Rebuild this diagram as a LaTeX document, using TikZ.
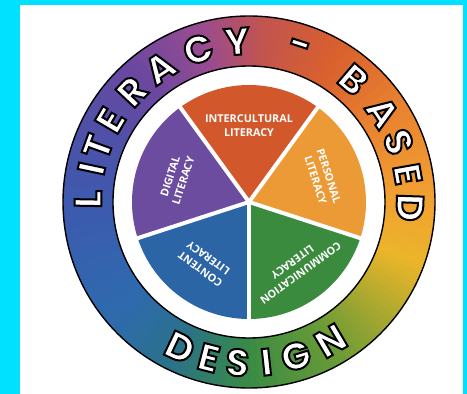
\documentclass[tikz,border=0pt]{standalone}
\usepackage{fontspec}
\setmainfont{Open Sans}
\newfontfamily\ringfont{Poppins}

\definecolor{bgCyan}{HTML}{00E1FF}
\definecolor{sliceRed}{HTML}{D2582B}
\definecolor{sliceOrange}{HTML}{EC9A36}
\definecolor{sliceGreen}{HTML}{3B8B3F}
\definecolor{sliceBlue}{HTML}{2B65A6}
\definecolor{slicePurple}{HTML}{6B4C9E}
% ring colour stops
\definecolor{rg0}{HTML}{3A8B45}
\definecolor{rg1}{HTML}{6A9B36}
\definecolor{rg2}{HTML}{A9A830}
\definecolor{rg3}{HTML}{EBB52A}
\definecolor{rg4}{HTML}{F1A232}
\definecolor{rg5}{HTML}{EA8530}
\definecolor{rg6}{HTML}{D8602E}
\definecolor{rg7}{HTML}{C2544E}
\definecolor{rg8}{HTML}{9A4C8E}
\definecolor{rg9}{HTML}{6C48A0}
\definecolor{rg10}{HTML}{5050A8}
\definecolor{rg11}{HTML}{3D5AAE}
\definecolor{rg12}{HTML}{2E6AAE}
\definecolor{rg13}{HTML}{2A7288}

% outlined white letter (stroke + fill)
\newcommand{\outlined}[1]{\textcolor{white}{\special{pdf:literal direct 2 Tr 2 w 0 0 0 RG}#1\special{pdf:literal direct 0 Tr}}}

\begin{document}
\begin{tikzpicture}[
    x=1pt, y=1pt,
    % 统一的样式
    slice_text/.style={text=white, font=\bfseries\fontsize{10.8}{13.8}\selectfont, align=center, inner sep=0},
    ring_letter/.style={font=\ringfont\bfseries\fontsize{38}{38}\selectfont, inner sep=0},
    ring_edge/.style={line width=1.4pt, black}
]
    \useasboundingbox (0,0) rectangle (467,394);

    % --- 背景 ---
    \fill[bgCyan] (0,0) rectangle (467,394);
    \fill[white] (20,0) rectangle (463,389);
    \coordinate (c) at (249,192);

    \begin{scope}[shift={(c)}]
        % --- 彩色圆环 (分段渐变) ---
        \foreach \sa/\ea/\ca/\cb in {-90/-60/rg0/rg1, -60/-40/rg1/rg2, -40/-20/rg2/rg3, -20/0/rg3/rg4,
                0/30/rg4/rg5, 30/60/rg5/rg6, 60/85/rg6/rg7, 85/105/rg7/rg8, 105/130/rg8/rg9,
                130/155/rg9/rg10, 155/180/rg10/rg11, 180/220/rg11/rg12, 220/245/rg12/rg13, 245/270/rg13/rg0} {
            \foreach \t in {0,...,9} {
                \pgfmathsetmacro{\aa}{\sa+(\ea-\sa)*\t/10}
                \pgfmathsetmacro{\ab}{\sa+(\ea-\sa)*(\t+1)/10+0.5}
                \pgfmathtruncatemacro{\p}{95-\t*10}
                \fill[\ca!\p!\cb] (\aa:186) arc[start angle=\aa, end angle=\ab, radius=186]
                    -- (\ab:136) arc[start angle=\ab, end angle=\aa, radius=136] -- cycle;
            }
        }
        \draw[ring_edge] (0,0) circle[radius=186];
        \draw[ring_edge] (0,0) circle[radius=136];

        % --- 五个扇形 ---
        \foreach \sa/\ea/\col in {54/126/sliceRed, -18/54/sliceOrange, -90/-18/sliceGreen,
                198/270/sliceBlue, 126/198/slicePurple} {
            \fill[\col] (0,0) -- (\sa:117) arc[start angle=\sa, end angle=\ea, radius=117] -- cycle;
        }
        \foreach \b in {54,126,198,270,342} {
            \draw[white, line width=4] (0,0) -- (\b:121);
        }

        % --- 扇形文字 ---
        \node[slice_text] (intercultural) at (90:76) {INTERCULTURAL\\LITERACY};
        \node[slice_text, rotate=-72] (personal) at (18:77) {PERSONAL\\LITERACY};
        \node[slice_text, rotate=216] (communication) at (306:81) {COMMUNICATION\\LITERACY};
        \node[slice_text, rotate=144] (content) at (234:76) {CONTENT\\LITERACY};
        \node[slice_text, rotate=72] (digital) at (162:76) {DIGITAL\\LITERACY};

        % --- 圆环文字 ---
        \foreach \ch/\ang [count=\i] in {L/179, I/168, T/160, E/149.5, R/136.6, A/123.5, C/108.4,
                Y/94.3, -/72, B/49.5, A/33.9, S/21.9, E/10, D/-2} {
            \node[ring_letter, rotate=\ang-90] (top\i) at (\ang:161) {\outlined{\ch}};
        }
        \foreach \ch/\ang [count=\i] in {D/244.6, E/255.5, S/265.9, I/276.2, G/286.9, N/300.5} {
            \node[ring_letter, rotate=\ang+90] (bot\i) at (\ang:161) {\outlined{\ch}};
        }
    \end{scope}

\end{tikzpicture}
\end{document}
